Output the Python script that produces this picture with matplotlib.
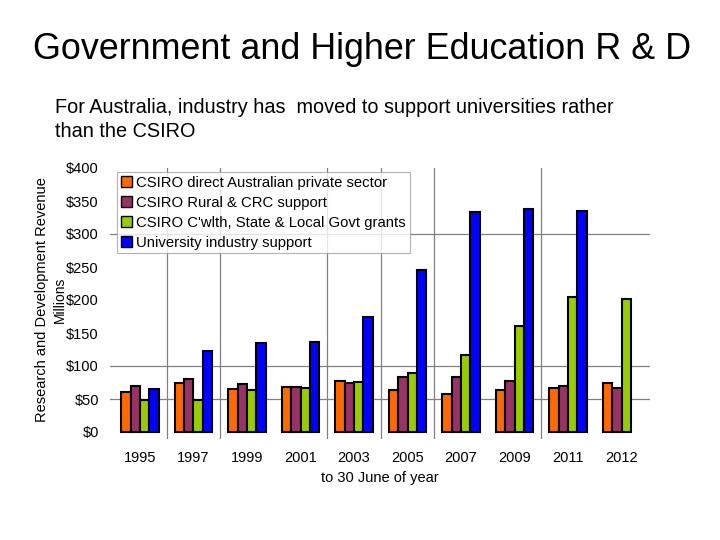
import matplotlib
matplotlib.use("Agg")
import matplotlib.pyplot as plt
import numpy as np

plt.rcParams['font.family'] = ['Liberation Sans', 'DejaVu Sans']

years = ['1995', '1997', '1999', '2001', '2003', '2005', '2007', '2009', '2011', '2012']
series_names = ['CSIRO direct Australian private sector',
                'CSIRO Rural & CRC support',
                "CSIRO C'wlth, State & Local Govt grants",
                'University industry support']
csiro_private = [61, 75, 65, 68, 78, 64, 58, 63, 66, 75]
csiro_rural = [69, 80, 72, 68, 75, 84, 84, 78, 70, 66]
csiro_govt = [49, 49, 63, 67, 76, 90, 116, 161, 204, 202]
university = [65, 122, 135, 137, 175, 245, 334, 338, 335, 0]
colors = ['#ff6a00', '#993366', '#99cc00', '#0000ff']
yticks = [0, 50, 100, 150, 200, 250, 300, 350, 400]

fig = plt.figure(figsize=(7.2, 5.4), dpi=100)
ax = fig.add_axes([110/720, (540-438.6)/540, (650-110)/720, (438.6-168)/540])

x = np.arange(len(years))
w = 0.175
data = [csiro_private, csiro_rural, csiro_govt, university]
for i, (vals, c, name) in enumerate(zip(data, colors, series_names)):
    xs = x + (i - 1.5) * w
    vv = np.array(vals, dtype=float)
    mask = vv > 0
    ax.bar(xs[mask], vv[mask], width=w, color=c, edgecolor='black', linewidth=1.5,
           label=name, zorder=3)

ax.set_xlim(-0.56, 9.53)
ax.set_ylim(-10, 400)
# visible gridlines
for yv in [50, 100, 300]:
    ax.axhline(yv, color='#808080', linewidth=0.9, zorder=1)
for xv in [0.5, 1.5, 3.5, 4.5, 5.5, 7.5]:
    ax.axvline(xv, color='#808080', linewidth=0.9, zorder=1)

ax.set_yticks(yticks)
ax.set_yticklabels(['$%d' % v for v in yticks], fontsize=10.5)
ax.set_xticks(x)
ax.set_xticklabels(years, fontsize=10.5)
ax.tick_params(axis='both', length=0)
ax.tick_params(axis='y', pad=8)
ax.tick_params(axis='x', pad=9)
for s in ax.spines.values():
    s.set_visible(False)

ax.set_xlabel('to 30 June of year', fontsize=10.5, labelpad=4)
fig.text(42/720, 1 - 300/540, 'Research and Development Revenue', rotation=90,
         ha='center', va='center', fontsize=10.5)
fig.text(60/720, 1 - 300/540, 'Millions', rotation=90, ha='center', va='center', fontsize=10)

leg = ax.legend(loc='upper left', bbox_to_anchor=(0.013, 0.985), fontsize=10.7,
                frameon=True, fancybox=False, borderpad=0.25, labelspacing=0.4,
                handlelength=0.75, handleheight=0.75, handletextpad=0.3,
                borderaxespad=0.0, shadow=False)
leg.get_frame().set_edgecolor('#a0a0a0')
leg.get_frame().set_linewidth(0.8)
leg.set_zorder(5)
for h in leg.legend_handles:
    h.set_linewidth(1.0)

fig.text(33/720, 1 - 59/540, 'Government and Higher Education R & D', fontsize=25.8,
         ha='left', va='baseline')
fig.text(55/720, 1 - 113/540, 'For Australia, industry has  moved to support universities rather',
         fontsize=14.3, ha='left', va='baseline')
fig.text(55/720, 1 - 137/540, 'than the CSIRO', fontsize=14.3, ha='left', va='baseline')

fig.savefig('out.png', dpi=100)
